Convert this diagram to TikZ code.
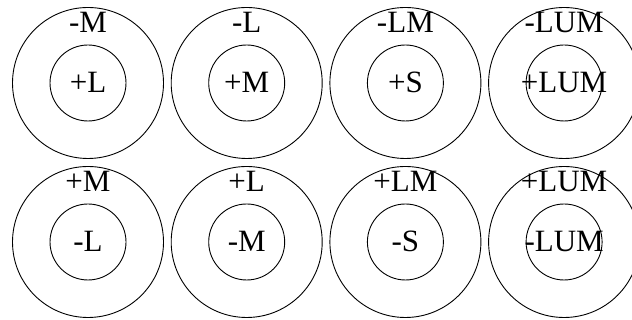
\documentclass[tikz,border=0pt]{standalone}
\usepackage{fontspec}
\setmainfont{Liberation Serif}
\usepackage{tikz}
\tikzset{
  ring/.style={circle,draw,line width=0.9pt,inner sep=0pt},
  lbl/.style={anchor=base,inner sep=0pt,font=\fontsize{31}{37}\selectfont}
}

\begin{document}
\begin{tikzpicture}[x=1pt,y=1pt]
  \useasboundingbox (0,0) rectangle (632,320);
  % top row: centre on, surround off
  \foreach \i/\sur/\cen in {0/-M/+L,1/-L/+M,2/-LM/+S,3/-LUM/+LUM} {
    \node[ring,minimum size=151pt] (outerT\i) at (88+158.7*\i,237) {};
    \node[ring,minimum size=76pt] (innerT\i) at (outerT\i.center) {};
    \node[lbl] (surT\i) at ([yshift=50pt]outerT\i.center) {\sur};
    \node[lbl] (cenT\i) at ([yshift=-10pt]innerT\i.center) {\cen};
  }
  % bottom row: centre off, surround on
  \foreach \i/\sur/\cen in {0/+M/-L,1/+L/-M,2/+LM/-S,3/+LUM/-LUM} {
    \node[ring,minimum size=151pt] (outerB\i) at (88+158.7*\i,78) {};
    \node[ring,minimum size=76pt] (innerB\i) at (outerB\i.center) {};
    \node[lbl] (surB\i) at ([yshift=50pt]outerB\i.center) {\sur};
    \node[lbl] (cenB\i) at ([yshift=-10pt]innerB\i.center) {\cen};
  }
\end{tikzpicture}
\end{document}
